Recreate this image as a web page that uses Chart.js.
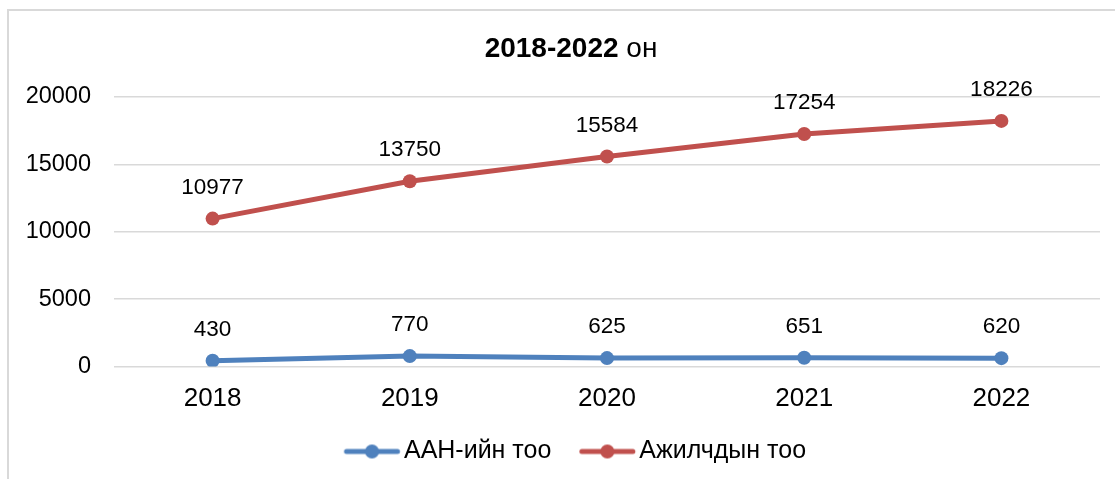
<!DOCTYPE html>
<html>
<head>
<meta charset="utf-8">
<script src="https://cdn.jsdelivr.net/npm/chart.js@4/dist/chart.umd.min.js"></script>
<style>
  html, body { margin: 0; padding: 0; overflow: hidden; background: #fff; width: 1115px; height: 479px; }
  .frame {
    position: absolute; left: 7px; top: 9px;
    width: 1124px; height: 480px;
    border-left: 2px solid #d9d9d9; border-top: 2px solid #d9d9d9;
    background: #fff;
  }
  .frame canvas { position: absolute; left: 0; top: 0; }
</style>
</head>
<body>
<div class="frame"><canvas id="chart" width="1124" height="463"></canvas></div>
<script>
/* data */
const years = ["2018", "2019", "2020", "2021", "2022"];
const companies = [430, 770, 625, 651, 620];
const workers = [10977, 13750, 15584, 17254, 18226];
const seriesNames = ["ААН-ийн тоо", "Ажилчдын тоо"];
const yTicks = [0, 5000, 10000, 15000, 20000];

const FONT = "'Liberation Sans', Arial, sans-serif";
const BLUE = "#4f81bd";
const RED = "#c0504d";

// legend marker: line with a dot, drawn in the right part of a wider image
const legendMarker = (color) => {
  const c = document.createElement("canvas");
  c.width = 80;
  c.height = 16;
  const g = c.getContext("2d");
  g.strokeStyle = color;
  g.lineWidth = 5;
  g.lineCap = "round";
  g.beginPath();
  g.moveTo(22.75, 8);
  g.lineTo(73.75, 8);
  g.stroke();
  g.fillStyle = color;
  g.beginPath();
  g.arc(48.25, 8, 7, 0, Math.PI * 2);
  g.fill();
  return c;
};

// title with bold years and normal "он"
const titlePlugin = {
  id: "mixedTitle",
  afterDraw(chart) {
    const ctx = chart.ctx;
    const bold = "bold 28px " + FONT;
    const normal = "28px " + FONT;
    ctx.save();
    ctx.font = bold;
    const w1 = ctx.measureText("2018-2022 ").width;
    ctx.font = normal;
    const w2 = ctx.measureText("он").width;
    let x = chart.width / 2 - (w1 + w2) / 2;
    const y = 38;
    ctx.fillStyle = "#000";
    ctx.textBaseline = "middle";
    ctx.textAlign = "left";
    ctx.font = bold;
    ctx.fillText("2018-2022 ", x, y);
    ctx.font = normal;
    ctx.fillText("он", x + w1, y);
    ctx.restore();
  },
};

// values above each point
const valueLabels = {
  id: "valueLabels",
  afterDatasetsDraw(chart) {
    const ctx = chart.ctx;
    ctx.save();
    ctx.font = "22.5px " + FONT;
    ctx.fillStyle = "#000";
    ctx.textAlign = "center";
    ctx.textBaseline = "middle";
    chart.data.datasets.forEach((ds, i) => {
      chart.getDatasetMeta(i).data.forEach((pt, j) => {
        ctx.fillText(String(ds.data[j]), pt.x, pt.y - 31);
      });
    });
    ctx.restore();
  },
};

const ctx = document.getElementById("chart").getContext("2d");
new Chart(ctx, {
  type: "line",
  data: {
    labels: years,
    datasets: [
      {
        label: seriesNames[0],
        data: companies,
        borderColor: BLUE,
        backgroundColor: BLUE,
        borderWidth: 5,
        pointRadius: 7,
        pointHoverRadius: 7,
        pointBorderWidth: 0,
        tension: 0,
      },
      {
        label: seriesNames[1],
        data: workers,
        borderColor: RED,
        backgroundColor: RED,
        borderWidth: 5,
        pointRadius: 7,
        pointHoverRadius: 7,
        pointBorderWidth: 0,
        tension: 0,
      },
    ],
  },
  options: {
    responsive: false,
    animation: false,
    events: [],
    layout: { padding: { top: 86, left: 0, right: 0, bottom: 0 } },
    scales: {
      x: {
        offset: true,
        grid: { display: false },
        border: { display: false },
        ticks: { color: "#000", font: { family: FONT, size: 26 }, padding: 8.4, maxRotation: 0 },
        afterFit: (s) => { s.height = 52.5; },
      },
      y: {
        min: 0,
        max: 20000,
        afterBuildTicks: (s) => { s.ticks = yTicks.map((v) => ({ value: v })); },
        grid: { color: "#d9d9d9", lineWidth: 1.5, drawTicks: false },
        border: { display: false },
        ticks: {
          color: "#000",
          font: { family: FONT, size: 23.5 },
          padding: 23,
          callback: (v) => String(v),
        },
        afterFit: (s) => { s.width = 105; },
      },
      yr: {
        position: "right",
        display: true,
        grid: { display: false },
        border: { display: false },
        ticks: { display: false },
        afterFit: (s) => { s.width = 33; },
      },
    },
    plugins: {
      title: { display: false },
      tooltip: { enabled: false },
      legend: {
        position: "bottom",
        labels: {
          usePointStyle: true,
          pointStyleWidth: 55.5,
          padding: 20,
          color: "#000",
          font: { family: FONT, size: 25 },
          generateLabels: (chart) =>
            chart.data.datasets.map((ds, i) => ({
              text: ds.label,
              pointStyle: legendMarker(ds.borderColor),
              fillStyle: ds.borderColor,
              strokeStyle: ds.borderColor,
              lineWidth: 0,
              hidden: false,
              datasetIndex: i,
            })),
        },
      },
    },
  },
  plugins: [titlePlugin, valueLabels],
});
</script>
</body>
</html>
